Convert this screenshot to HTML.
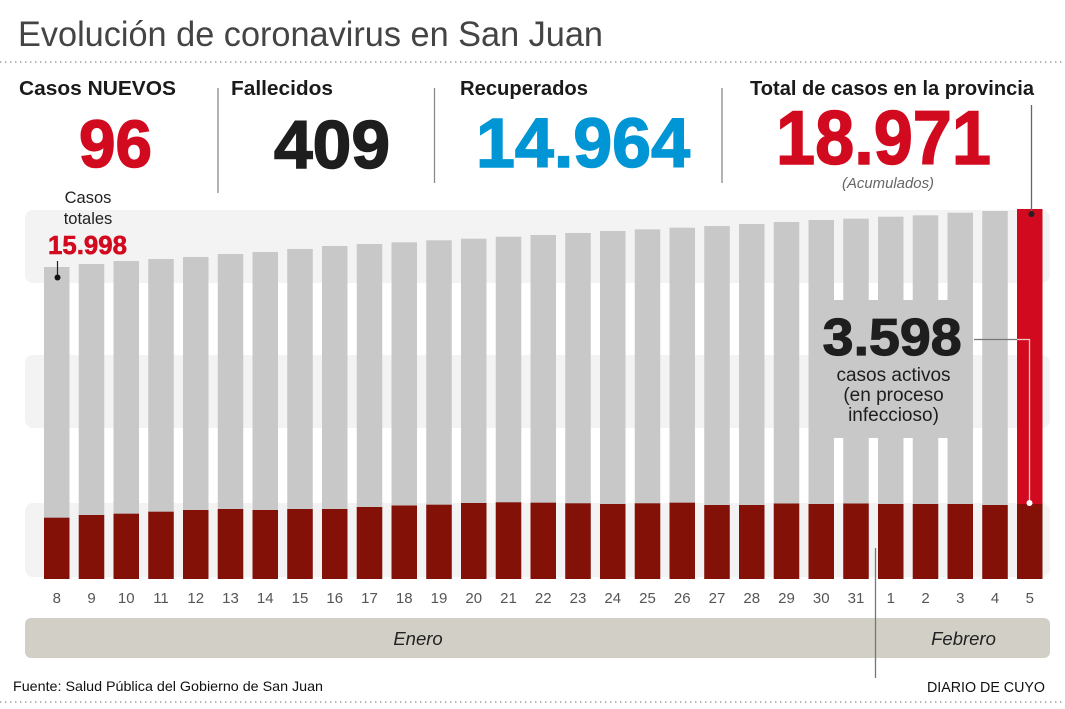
<!DOCTYPE html>
<html><head><meta charset="utf-8"><style>
html,body{margin:0;padding:0;background:#fff;width:1065px;height:709px;overflow:hidden}
svg{display:block}
text{font-family:"Liberation Sans",Arial,sans-serif}
</style></head><body>
<svg width="1065" height="709" viewBox="0 0 1065 709" xmlns="http://www.w3.org/2000/svg">
<rect width="1065" height="709" fill="#fff"/>
<text x="18" y="46" font-size="35" fill="#444" textLength="585" lengthAdjust="spacingAndGlyphs">Evolución de coronavirus en San Juan</text>
<line x1="0" y1="62" x2="1065" y2="62" stroke="#8a8a8a" stroke-width="1.3" stroke-dasharray="1.4 3.6"/>
<line x1="0" y1="702" x2="1065" y2="702" stroke="#8a8a8a" stroke-width="1.3" stroke-dasharray="1.4 3.6"/>

<g font-weight="bold" fill="#1a1a1a" font-size="20">
<text x="19" y="95" textLength="157" lengthAdjust="spacingAndGlyphs">Casos NUEVOS</text>
<text x="231" y="95" textLength="102" lengthAdjust="spacingAndGlyphs">Fallecidos</text>
<text x="460" y="95" textLength="128" lengthAdjust="spacingAndGlyphs">Recuperados</text>
<text x="750" y="95" textLength="284" lengthAdjust="spacingAndGlyphs">Total de casos en la provincia</text>
</g>
<g stroke="#8a8a8a" stroke-width="1.3">
<line x1="218" y1="88" x2="218" y2="193"/>
<line x1="434.5" y1="88" x2="434.5" y2="183"/>
<line x1="722" y1="88" x2="722" y2="183"/>
</g>
<g font-weight="bold">
<text x="79" y="167" font-size="67" fill="#d20a1f" stroke="#d20a1f" stroke-width="1.5" textLength="73" lengthAdjust="spacingAndGlyphs">96</text>
<text x="274" y="168" font-size="68" fill="#1e1e1e" stroke="#1e1e1e" stroke-width="1.5" textLength="116" lengthAdjust="spacingAndGlyphs">409</text>
<text x="476" y="167" font-size="70" fill="#0096d6" stroke="#0096d6" stroke-width="1.5" textLength="214" lengthAdjust="spacingAndGlyphs">14.964</text>
<text x="776" y="164" font-size="76" fill="#d20a1f" stroke="#d20a1f" stroke-width="1.5" textLength="215" lengthAdjust="spacingAndGlyphs">18.971</text>
</g>
<text x="842" y="188" font-size="15" font-style="italic" fill="#666" textLength="92" lengthAdjust="spacingAndGlyphs">(Acumulados)</text>

<!-- bands -->
<g fill="#f3f3f3">
<rect x="25" y="210" width="1025" height="73" rx="8"/>
<rect x="25" y="355" width="1025" height="73" rx="8"/>
<rect x="25" y="503" width="1025" height="74" rx="8"/>
</g>

<g id="bars"></g>

<!-- active box -->
<rect x="810" y="300" width="163" height="138" fill="#c8c8c8"/>
<text x="822.7" y="355" font-size="52" font-weight="bold" fill="#1e1e1e" stroke="#1e1e1e" stroke-width="1.2" textLength="139" lengthAdjust="spacingAndGlyphs">3.598</text>
<g font-size="19" fill="#1e1e1e" text-anchor="middle">
<text x="893.5" y="381">casos activos</text>
<text x="893.5" y="401">(en proceso</text>
<text x="893.5" y="421">infeccioso)</text>
</g>

<!-- casos totales label -->
<g font-size="16.5" fill="#222" text-anchor="middle">
<text x="88" y="203">Casos</text>
<text x="88" y="224">totales</text>
</g>
<text x="48" y="254" font-size="26" font-weight="bold" fill="#d20a1f" stroke="#d20a1f" stroke-width="0.6" textLength="79" lengthAdjust="spacingAndGlyphs">15.998</text>

<!-- month band -->
<rect x="25" y="618" width="1025" height="40" rx="6" fill="#d1cfc6"/>
<g font-size="18.5" font-style="italic" fill="#222" text-anchor="middle">
<text x="418" y="645">Enero</text>
<text x="963.5" y="645">Febrero</text>
</g>
<line x1="875.5" y1="548" x2="875.5" y2="678" stroke="#777" stroke-width="1.3"/>

<g id="xl" font-size="15" fill="#555" text-anchor="middle"></g>

<text x="13" y="691" font-size="14" fill="#111" textLength="310" lengthAdjust="spacingAndGlyphs">Fuente: Salud Pública del Gobierno de San Juan</text>
<text x="927" y="692" font-size="14.3" fill="#111" textLength="118" lengthAdjust="spacingAndGlyphs">DIARIO DE CUYO</text>

<g id="over"></g>
</svg>
<script>
(function(){
var NS="http://www.w3.org/2000/svg";
var gt=[267,264,261,259,257,254,252,249,246,244,242.3,240.3,238.7,236.7,235,233,231,229.3,227.7,226,224,222,220,218.7,216.7,215.3,212.7,211,209];
var dt=[517.7,515,513.7,511.7,510,509,510,509,509,507,505.5,504.7,503,502.3,502.7,503.3,504,503.3,502.7,505,505,503.5,504,503.5,504,504,504,505,504];
var labels=[8,9,10,11,12,13,14,15,16,17,18,19,20,21,22,23,24,25,26,27,28,29,30,31,1,2,3,4,5];
var bars=document.getElementById('bars'),xl=document.getElementById('xl');
function el(t,a,p){var e=document.createElementNS(NS,t);for(var k in a)e.setAttribute(k,a[k]);p.appendChild(e);return e;}
for(var i=0;i<29;i++){
 var x=44+i*34.75;
 el('rect',{x:x,y:gt[i],width:25.5,height:579-gt[i],fill:(i==28?'#d20a1f':'#c8c8c8')},bars);
 el('rect',{x:x,y:dt[i],width:25.5,height:579-dt[i],fill:'#841108'},bars);
 var t=el('text',{x:x+12.75,y:603},xl);t.textContent=labels[i];
}
var o=document.getElementById('over');
el('line',{x1:57.5,y1:261,x2:57.5,y2:277,stroke:'#222','stroke-width':1.2},o);
el('circle',{cx:57.5,cy:277.5,r:3,fill:'#111'},o);
el('line',{x1:974,y1:339.5,x2:1017,y2:339.5,stroke:'#777','stroke-width':1.3},o);
el('polyline',{points:'1017,339.5 1029.5,339.5 1029.5,503',fill:'none',stroke:'#f6c3c7','stroke-width':1.3},o);
el('circle',{cx:1029.5,cy:503,r:3,fill:'#fff'},o);
el('line',{x1:1031.5,y1:105,x2:1031.5,y2:214,stroke:'#666','stroke-width':1.3},o);
el('circle',{cx:1031.5,cy:214,r:3,fill:'#222'},o);
})();
</script>
</body></html>
